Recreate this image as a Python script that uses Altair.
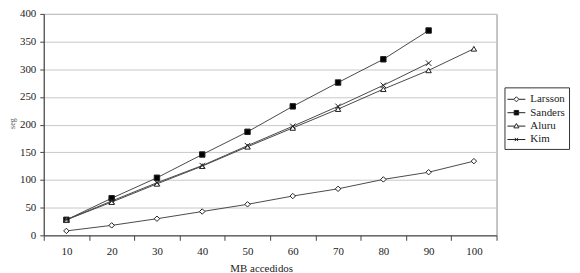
import altair as alt
import pandas as pd

mb = [10, 20, 30, 40, 50, 60, 70, 80, 90, 100]
series = ["Larsson", "Sanders", "Aluru", "Kim"]
larsson = [8, 18, 30, 43, 56, 71, 84, 101, 114, 134]
sanders = [28, 67, 104, 146, 187, 233, 276, 318, 370, None]
aluru = [28, 60, 93, 125, 160, 194, 228, 264, 298, 337]
kim = [28, 62, 95, 126, 162, 197, 233, 271, 311, None]
y_ticks = [0, 50, 100, 150, 200, 250, 300, 350, 400]

rows = []
for name, vals in zip(series, [larsson, sanders, aluru, kim]):
    for x, v in zip(mb, vals):
        if v is not None:
            rows.append({"MB": x, "seg": v, "serie": name})
df = pd.DataFrame(rows)

FONT = "Liberation Serif"
LINE = "#4a4a4a"

x_enc = alt.X("MB:O", title="MB accedidos", bandPosition=0.5,
              scale=alt.Scale(type="band", paddingInner=0, paddingOuter=0),
              axis=alt.Axis(labelAngle=0, tickBand="extent", grid=False, tickSize=5,
                            domainColor="#444", tickColor="#444", labelPadding=5,
                            titleX=219, titlePadding=6))
y_enc = alt.Y("seg:Q", title="seg",
              scale=alt.Scale(domain=[0, 400], nice=False),
              axis=alt.Axis(values=y_ticks, tickSize=4, domainColor="#444", tickColor="#444",
                            gridColor="#c8c8c8", labelPadding=4, titleFontSize=8,
                            titleX=-31, titleY=110, titleBaseline="middle",
                            titleColor="#555"))

base = alt.Chart(df)

lines = base.mark_line(color=LINE, strokeWidth=1).encode(
    x=x_enc, y=y_enc, detail="serie:N"
)

marker_shapes = [
    "diamond",
    "square",
    "triangle-up",
    "M-1,-1L1,1M-1,1L1,-1",
]
fills = ["white", "black", "white", "white"]
points = base.mark_point(stroke="#222", strokeWidth=1, opacity=1, size=30).encode(
    x=x_enc, y=y_enc,
    shape=alt.Shape("serie:N", scale=alt.Scale(domain=series, range=marker_shapes), legend=None),
    fill=alt.Fill("serie:N", scale=alt.Scale(domain=series, range=fills), legend=None),
)

legend_paths = [
    "M-1.2,0H-0.34M0.34,0H1.2M0,-0.34L0.34,0L0,0.34L-0.34,0Z",
    "M-1.2,0H1.2M-0.3,-0.3H0.3V0.3H-0.3Z",
    "M-1.2,0H-0.2M0.2,0H1.2M0,-0.34L0.34,0.24L-0.34,0.24Z",
    "M-1.2,0H1.2M-0.22,-0.22L0.22,0.22M-0.22,0.22L0.22,-0.22",
]
leg = alt.Legend(title=None, orient="none", legendX=464, legendY=74,
                 strokeColor="#333", fillColor="white", padding=4,
                 labelFont=FONT, labelFontSize=11, labelColor="#222",
                 labelOffset=6, rowPadding=0.5,
                 symbolStrokeWidth=1, symbolSize=225,
                 labelExpr="datum.label + '\u00a0\u00a0\u00a0\u00a0'")
legend_layer = base.transform_filter("false").mark_point(
    strokeWidth=1, opacity=1, size=225
).encode(
    x=x_enc, y=y_enc,
    shape=alt.Shape("serie:N", scale=alt.Scale(domain=series, range=legend_paths), legend=leg),
    fill=alt.Fill("serie:N", scale=alt.Scale(domain=series, range=fills), legend=leg),
    stroke=alt.Stroke("serie:N", scale=alt.Scale(domain=series, range=["#222"] * 4), legend=leg),
)

chart = alt.layer(lines, points, legend_layer).resolve_scale(
    shape="independent", fill="independent", stroke="independent"
).properties(
    width=456, height=223,
    autosize=alt.AutoSizeParams(type="none"),
    padding={"left": 36, "top": 5, "right": 76, "bottom": 37},
).configure_view(stroke="#888", strokeWidth=1).configure_axis(
    labelFont=FONT, titleFont=FONT, labelFontSize=11, titleFontSize=11,
    labelColor="#222", titleColor="#222", titleFontWeight="normal"
)

chart.save("out.html", embed_options={"renderer": "svg", "actions": False})
